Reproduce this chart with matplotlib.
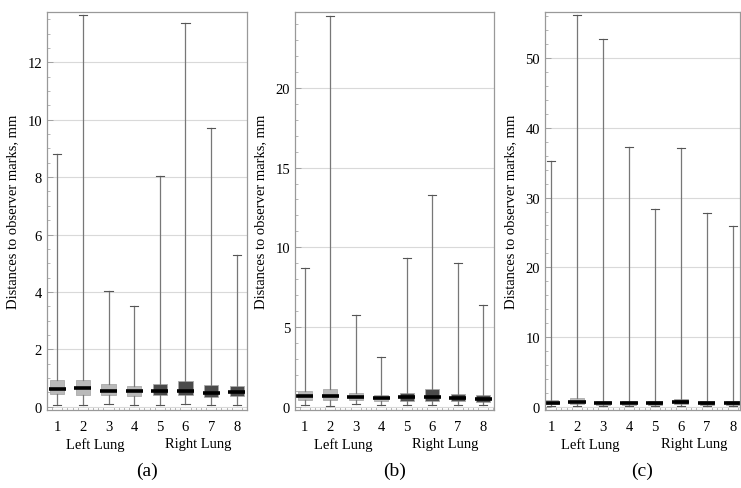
import numpy as np
import matplotlib.pyplot as plt
from matplotlib.ticker import MultipleLocator

plt.rcParams['font.family'] = 'serif'
plt.rcParams['font.serif'] = ['Liberation Serif', 'DejaVu Serif']

regions = [1, 2, 3, 4, 5, 6, 7, 8]

# panel (a)
a_low = [0.07, 0.06, 0.10, 0.07, 0.07, 0.10, 0.07, 0.05]
a_q1 = [0.45, 0.40, 0.40, 0.37, 0.40, 0.40, 0.33, 0.38]
a_med = [0.62, 0.64, 0.56, 0.54, 0.56, 0.56, 0.49, 0.53]
a_q3 = [0.93, 0.92, 0.79, 0.72, 0.79, 0.90, 0.76, 0.73]
a_high = [8.8, 13.65, 4.03, 3.5, 8.05, 13.35, 9.7, 5.3]

# panel (b)
b_low = [0.10, 0.08, 0.15, 0.10, 0.10, 0.12, 0.10, 0.12]
b_q1 = [0.45, 0.40, 0.42, 0.35, 0.35, 0.38, 0.35, 0.32]
b_med = [0.65, 0.65, 0.62, 0.55, 0.60, 0.60, 0.55, 0.50]
b_q3 = [1.00, 1.10, 0.88, 0.75, 0.88, 1.12, 0.82, 0.75]
b_high = [8.7, 24.5, 5.75, 3.15, 9.3, 13.3, 9.0, 6.4]

# panel (c)
c_low = [0.10, 0.10, 0.10, 0.10, 0.10, 0.10, 0.10, 0.10]
c_q1 = [0.35, 0.40, 0.30, 0.25, 0.30, 0.35, 0.30, 0.25]
c_med = [0.60, 0.70, 0.55, 0.50, 0.55, 0.65, 0.55, 0.50]
c_q3 = [0.95, 1.30, 0.85, 0.80, 0.85, 1.10, 0.85, 0.80]
c_high = [35.3, 56.2, 52.8, 37.3, 28.3, 37.1, 27.8, 25.9]

panels = [
    ('(a)', a_low, a_q1, a_med, a_q3, a_high, 13.75, 2, 0.5, (0.6, 8.4)),
    ('(b)', b_low, b_q1, b_med, b_q3, b_high, 24.75, 5, 1, (0.62, 8.42)),
    ('(c)', c_low, c_q1, c_med, c_q3, c_high, 56.6, 10, 2, (0.77, 8.27)),
]
lefts = [0.0634, 0.398, 0.7355]
widths = [0.270, 0.2686, 0.263]
box_colors = ['#b9b9b9'] * 4 + ['#4b4b4b'] * 4

fig = plt.figure(figsize=(7.41, 4.89), dpi=100)

for i, (tag, lo, q1, med, q3, hi, ytop, major, minor, xl) in enumerate(panels):
    ax = fig.add_axes([lefts[i], 0.1595, widths[i], 0.8139])
    stats = []
    for k in range(len(regions)):
        stats.append(dict(whislo=lo[k], q1=q1[k], med=med[k], q3=q3[k],
                          whishi=hi[k], fliers=[]))
    bp = ax.bxp(stats, positions=regions, widths=0.55, patch_artist=True,
                showfliers=False,
                whiskerprops=dict(color='#777777', lw=0.9),
                capprops=dict(color='#555555', lw=0.8),
                medianprops=dict(color='black', lw=2.6, solid_capstyle='butt'),
                boxprops=dict(edgecolor='#aaaaaa', lw=0.6))
    # short caps and slightly overhanging medians
    for cap in bp['caps']:
        xd = cap.get_xdata()
        c = (xd[0] + xd[1]) / 2
        cap.set_xdata([c - 0.16, c + 0.16])
    for patch, col in zip(bp['boxes'], box_colors):
        patch.set_facecolor(col)
    for m in bp['medians']:
        xd = m.get_xdata()
        c = (xd[0] + xd[1]) / 2
        m.set_xdata([c - 0.33, c + 0.33])

    ax.set_xlim(*xl)
    ax.set_ylim(-0.008 * ytop, ytop)
    ax.yaxis.set_major_locator(MultipleLocator(major))
    ax.yaxis.set_minor_locator(MultipleLocator(minor))
    ax.xaxis.set_minor_locator(MultipleLocator(0.2))
    ax.set_xticks(regions)
    ax.set_xticklabels([str(r) for r in regions])
    ax.grid(axis='y', which='major', color='#d9d9d9', lw=0.8)
    ax.set_axisbelow(True)
    ax.tick_params(which='both', direction='in', colors='#999999',
                   labelcolor='black', labelsize=10.5)
    ax.tick_params(which='major', length=4, width=0.6)
    ax.tick_params(which='minor', length=2, width=0.5)
    ax.tick_params(axis='x', which='major', length=0, pad=7)
    for s in ax.spines.values():
        s.set_color('#999999')
        s.set_linewidth(0.9)
    ax.set_ylabel('Distances to observer marks, mm', fontsize=10.5, labelpad=6)

    ax.text(2.5, -0.085, 'Left Lung', transform=ax.get_xaxis_transform(),
            ha='center', va='center', fontsize=10.5)
    ax.text(6.5, -0.085, 'Right Lung', transform=ax.get_xaxis_transform(),
            ha='center', va='center', fontsize=10.5)
    ax.text(0.5, -0.152, tag, transform=ax.transAxes, ha='center',
            va='center', fontsize=14)

fig.savefig('out.png', dpi=100)
